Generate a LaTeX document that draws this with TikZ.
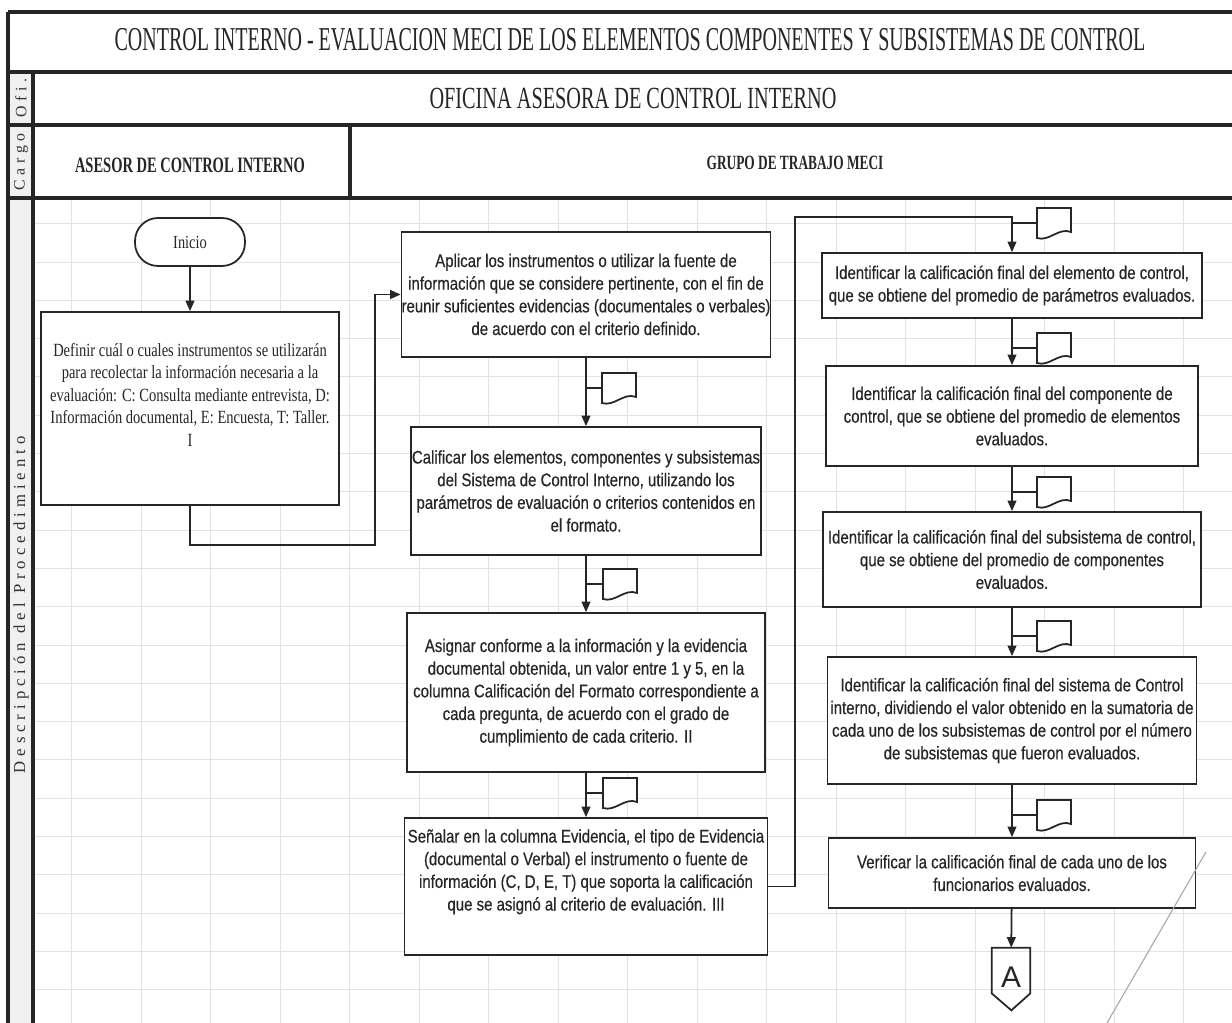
\documentclass[tikz,border=0pt]{standalone}
\usepackage{fontspec}
\setmainfont{Liberation Sans}
\newfontfamily\hdfont{Liberation Serif}[FakeStretch=0.6]
\newfontfamily\subfont{Liberation Serif}[FakeStretch=0.66]
\newfontfamily\lfont{Liberation Serif}[FakeStretch=0.78]
\newfontfamily\bfont{Liberation Sans}[FakeStretch=0.82, FakeBold=0.4]
\newfontfamily\sidefont{Liberation Serif}[LetterSpace=30]
\usetikzlibrary{arrows.meta}

\begin{document}
\begin{tikzpicture}[x=0.02cm, y=-0.02cm,
    hline/.style={line width=1.8pt, black!85},
    grid/.style={gray!22, line width=0.5pt},
    box/.style={draw=black!85, line width=1pt, fill=white, inner sep=0pt, align=center,
                font=\bfont\fontsize{10.4}{12.9}\selectfont, text=black!85},
    arr/.style={draw=black!85, line width=1pt, -{Triangle[length=6pt,width=5pt]}},
    stub/.style={draw=black!85, line width=1pt},
    docsym/.pic={\draw[black!85, line width=1pt, fill=white]
        (0,-15) -- (34,-15) -- (34,9) .. controls (22,4) and (12,19) .. (0,15) -- cycle;}]
    \useasboundingbox (0,0) rectangle (1232,1023);
    \fill[white] (0,0) rectangle (1232,1023);

    % Grid of the sheet
    \foreach \k in {0,...,16}
        \draw[grid] ({71.5+69.5*\k},198) -- ++(0,825);
    \foreach \k in {0,...,20}
        \draw[grid] (33,{223.7+38.3*\k}) -- ++(1199,0);

    % Left label column
    \fill[gray!12] (8,72) rectangle (33,1023);
    \draw[hline] (8,12) -- (1232,12);
    \draw[hline] (8,72) -- (1232,72);
    \draw[hline] (8,125) -- (1232,125);
    \draw[hline] (8,198) -- (1232,198);
    \draw[hline] (8,12) -- (8,1023);
    \draw[hline] (33,72) -- (33,1023);
    \draw[hline] (350,125) -- (350,198);

    % Header texts
    \node[text=black!85, font=\hdfont\fontsize{19}{22}\selectfont] (title) at (630,40)
        {CONTROL INTERNO - EVALUACION MECI DE LOS ELEMENTOS COMPONENTES Y SUBSISTEMAS DE CONTROL};
    \node[text=black!85, font=\subfont\fontsize{17.5}{20}\selectfont] (ofi) at (633,98)
        {OFICINA ASESORA DE CONTROL INTERNO};
    \node[text=black!85, font=\subfont\bfseries\fontsize{12.5}{15}\selectfont] (asesor) at (190,165)
        {ASESOR DE CONTROL INTERNO};
    \node[text=black!85, font=\subfont\bfseries\fontsize{11.5}{14}\selectfont] (grupo) at (795,163)
        {GRUPO DE TRABAJO MECI};
    \node[rotate=90, text=black!80, font=\sidefont\fontsize{9}{10}\selectfont] (lofi) at (21,98) {Ofi.};
    \node[rotate=90, text=black!80, font=\sidefont\fontsize{9}{10}\selectfont] (lcargo) at (21,162) {Cargo};
    \node[rotate=90, text=black!80, font=\sidefont\fontsize{9.5}{10}\selectfont] (ldesc) at (21,605)
        {Descripción del Procedimiento};

    % Asesor column
    \node[box, rounded corners=0.46cm, minimum width=2.2cm, minimum height=0.96cm,
          font=\lfont\fontsize{10.5}{12.6}\selectfont] (inicio) at (190,242) {Inicio};
    \node[box, minimum width=5.96cm, minimum height=3.86cm,
          font=\lfont\fontsize{10.6}{12.8}\selectfont] (definir) at (190,408.5)
        {Definir cuál o cuales instrumentos se utilizarán\\
         para recolectar la información necesaria a la\\
         evaluación: C: Consulta mediante entrevista, D:\\
         Información documental, E: Encuesta, T: Taller.\\
         I\\[3pt]};

    % Grupo de trabajo, first column
    \node[box, minimum width=7.36cm, minimum height=2.5cm] (aplicar) at (586,294.5)
        {Aplicar los instrumentos o utilizar la fuente de\\
         información que se considere pertinente, con el fin de\\
         reunir suficientes evidencias (documentales o verbales)\\
         de acuerdo con el criterio definido.};
    \node[box, minimum width=7.0cm, minimum height=2.56cm] (calificar) at (586,491)
        {Calificar los elementos, componentes y subsistemas\\
         del Sistema de Control Interno, utilizando los\\
         parámetros de evaluación o criterios contenidos en\\
         el formato.};
    \node[box, minimum width=7.16cm, minimum height=3.18cm] (asignar) at (586,692.5)
        {Asignar conforme a la información y la evidencia\\
         documental obtenida, un valor entre 1 y 5, en la\\
         columna Calificación del Formato correspondiente a\\
         cada pregunta, de acuerdo con el grado de\\
         cumplimiento de cada criterio. II};
    \node[box, minimum width=7.26cm, minimum height=2.74cm] (senalar) at (586,886.5)
        {Señalar en la columna Evidencia, el tipo de Evidencia\\
         (documental o Verbal) el instrumento o fuente de\\
         información (C, D, E, T) que soporta la calificación\\
         que se asignó al criterio de evaluación. III\\[6pt]};

    % Grupo de trabajo, second column
    \node[box, minimum width=7.6cm, minimum height=1.3cm] (elemento) at (1012,285.5)
        {Identificar la calificación final del elemento de control,\\
         que se obtiene del promedio de parámetros evaluados.};
    \node[box, minimum width=7.44cm, minimum height=2.0cm] (componente) at (1012,416)
        {Identificar la calificación final del componente de\\
         control, que se obtiene del promedio de elementos\\
         evaluados.};
    \node[box, minimum width=7.56cm, minimum height=1.9cm] (subsistema) at (1012,559.5)
        {Identificar la calificación final del subsistema de control,\\
         que se obtiene del promedio de componentes\\
         evaluados.};
    \node[box, minimum width=7.38cm, minimum height=2.54cm] (sistema) at (1012,720.5)
        {Identificar la calificación final del sistema de Control\\
         interno, dividiendo el valor obtenido en la sumatoria de\\
         cada uno de los subsistemas de control por el número\\
         de subsistemas que fueron evaluados.};
    \node[box, minimum width=7.34cm, minimum height=1.4cm] (verificar) at (1012,873)
        {Verificar la calificación final de cada uno de los\\
         funcionarios evaluados.};

    % Off-page connector
    \node[inner sep=0pt, minimum width=0.76cm, minimum height=0.9cm,
          label={[text=black!85, font=\fontsize{17}{19}\selectfont, yshift=-4pt]center:A}]
          (conA) at (1011,970.5) {};
    \draw[black!85, line width=1pt] (conA.north west) -- (conA.north east) -- (conA.south east)
        -- ++(-19,17) -- (conA.south west) -- cycle;

    % Connectors
    \coordinate (j1) at (375,545);
    \coordinate (j2) at (795,217);
    \draw[arr] (inicio) -- (definir);
    \draw[arr] (definir.south) |- (j1) |- (aplicar.west);
    \draw[arr] (aplicar) -- (calificar);
    \draw[arr] (calificar) -- (asignar);
    \draw[arr] (asignar) -- (senalar);
    \draw[arr] (senalar.east) -| (j2) -| (elemento.north);
    \draw[arr] (elemento) -- (componente);
    \draw[arr] (componente) -- (subsistema);
    \draw[arr] (subsistema) -- (sistema);
    \draw[arr] (sistema) -- (verificar);
    \draw[arr] (verificar) -- (conA);

    % Document symbols on the flow lines
    \coordinate (d1) at (602,388);
    \coordinate (d2) at (603,584);
    \coordinate (d3) at (603,793);
    \coordinate (d4) at (1037,223);
    \coordinate (d5) at (1037,348);
    \coordinate (d6) at (1037,492);
    \coordinate (d7) at (1037,636);
    \coordinate (d8) at (1037,815);
    \foreach \d in {d1,d2,d3}
        \draw[stub] (aplicar.south |- \d) -- (\d) pic {docsym};
    \foreach \d in {d4,d5,d6,d7,d8}
        \draw[stub] (elemento.north |- \d) -- (\d) pic {docsym};

    % Pen stroke over the sheet
    \draw[gray!70, line width=0.6pt] (1206,852) -- (1107,1023);
\end{tikzpicture}
\end{document}
